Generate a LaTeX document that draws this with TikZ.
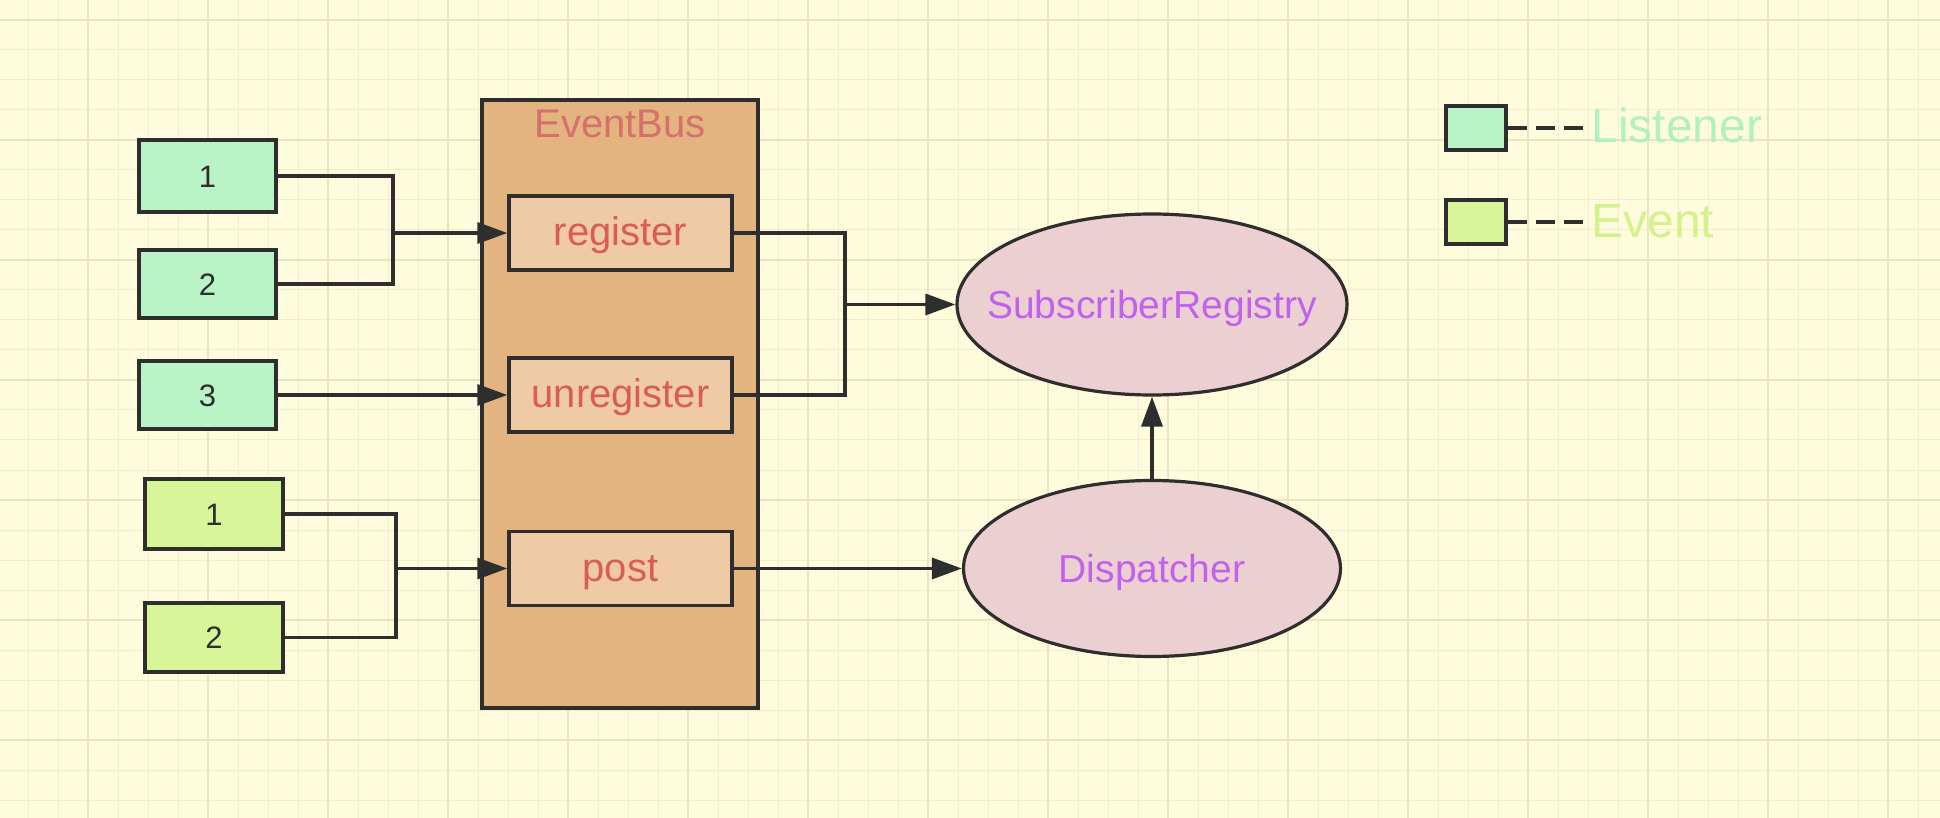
\documentclass[tikz,border=0pt]{standalone}
\usepackage{fontspec}
\setmainfont{Liberation Sans}
\usetikzlibrary{arrows.meta,shapes.geometric}
\definecolor{bg}{HTML}{FFFBDD}
\definecolor{gridminor}{HTML}{F4EDCD}
\definecolor{gridmajor}{HTML}{ECE3C0}
\definecolor{ink}{HTML}{2E2E2E}
\definecolor{lisfill}{HTML}{B8F4C6}
\definecolor{evfill}{HTML}{D8F59A}
\definecolor{listext}{HTML}{B2EFC2}
\definecolor{evtext}{HTML}{D2F28E}
\definecolor{busfill}{HTML}{E3B47F}
\definecolor{innerfill}{HTML}{EECBA4}
\definecolor{bustitle}{HTML}{D5706C}
\definecolor{innertext}{HTML}{D95C5A}
\definecolor{ellfill}{HTML}{EBCFD1}
\definecolor{elltext}{HTML}{C062EE}
\tikzset{
  smallbox/.style={draw=ink, line width=1.7pt, inner sep=0pt, minimum width=68.5pt,
    font=\fontsize{15.5}{18}\selectfont, text=ink, text height=11.1pt, text depth=0pt},
  lisbox/.style={smallbox, fill=lisfill},
  evbox/.style={smallbox, fill=evfill, minimum width=69pt},
  busbox/.style={draw=ink, line width=1.7pt, fill=busfill, inner sep=0pt,
    minimum width=138pt, minimum height=304pt},
  methbox/.style={draw=ink, line width=1.7pt, fill=innerfill, inner sep=0pt,
    minimum width=111.5pt, minimum height=37pt,
    font=\fontsize{20}{24}\selectfont, text=innertext, text height=13pt, text depth=0pt},
  ellnode/.style={ellipse, draw=ink, line width=1.6pt, fill=ellfill, inner sep=0pt},
  elllabel/.style={inner sep=0pt, font=\fontsize{19.5}{23}\selectfont, text=elltext,
    text height=14pt, text depth=0pt},
  conn/.style={draw=ink, line width=1.7pt},
  arr/.style={conn, -{Triangle[length=15pt,width=10.5pt]}},
  keybox/.style={draw=ink, line width=1.7pt, inner sep=0pt, minimum width=30pt, minimum height=22pt},
  keytext/.style={anchor=west, inner sep=4pt, font=\fontsize{24}{28}\selectfont,
    text height=17pt, text depth=0pt},
}
\begin{document}
\begin{tikzpicture}[x=0.5pt,y=-0.5pt]
\useasboundingbox (0,0) rectangle (1940,818);
\fill[bg] (0,0) rectangle (1940,818);
% grid
\foreach \x in {28,58,...,1940} \draw[gridminor, line width=0.5pt] (\x,0) -- (\x,818);
\foreach \y in {20,50,...,818} \draw[gridminor, line width=0.5pt] (0,\y) -- (1940,\y);
\foreach \x in {88,208,...,1940} \draw[gridmajor, line width=0.8pt] (\x,0) -- (\x,818);
\foreach \y in {20,140,...,818} \draw[gridmajor, line width=0.8pt] (0,\y) -- (1940,\y);

% EventBus container
\node[busbox] (bus) at (620,404) {};
\node[anchor=base, inner sep=0pt, font=\fontsize{20}{24}\selectfont, text=bustitle] (bustitle) at (620,138) {EventBus};
\node[methbox] (reg) at (620.5,233) {register};
\node[methbox] (unreg) at (620.5,395) {unregister};
\node[methbox] (post) at (620.5,568.5) {post};

% listeners
\node[lisbox, minimum height=36pt] (L1) at (207.5,176) {1};
\node[lisbox, minimum height=34pt] (L2) at (207.5,284) {2};
\node[lisbox, minimum height=34pt] (L3) at (207.5,395) {3};
% events
\node[evbox, minimum height=35pt] (E1) at (214,514) {1};
\node[evbox, minimum height=34.5pt] (E2) at (214,637.5) {2};

% ellipses
\node[ellnode, minimum width=195pt, minimum height=90.5pt] (SR) at (1152,304.5) {};
\node[elllabel] (SRt) at (SR.center) {SubscriberRegistry};
\node[ellnode, minimum width=188.5pt, minimum height=88pt] (disp) at (1152,568.5) {};
\node[elllabel] (dispt) at (disp.center) {Dispatcher};

% connectors
\coordinate (j1) at (393,233);
\draw[conn] (L1.east) -| (j1);
\draw[conn] (L2.east) -| (j1);
\draw[arr] (j1) -- (reg.west);
\draw[arr] (L3.east) -- (unreg.west);
\coordinate (j2) at (396,568.5);
\draw[conn] (E1.east) -| (j2);
\draw[conn] (E2.east) -| (j2);
\draw[arr] (j2) -- (post.west);
\coordinate (j3) at (845,304.5);
\draw[conn] (reg.east) -| (j3);
\draw[conn] (unreg.east) -| (j3);
\draw[arr] (j3) -- (SR.west);
\draw[arr] (post.east) -- (disp.west);
\draw[arr] (disp.north) -- (SR.south);

% legend
\node[keybox, fill=lisfill] (kL) at (1476,128) {};
\node[keybox, fill=evfill] (kE) at (1476,222) {};
\node[keytext, text=listext] (tL) at (1583,126) {Listener};
\node[keytext, text=evtext] (tE) at (1583,220.5) {Event};
\draw[conn, dash pattern=on 9.5pt off 4.5pt] (kL.east) -- (kL.east -| tL.west);
\draw[conn, dash pattern=on 9.5pt off 4.5pt] (kE.east) -- (kE.east -| tE.west);
\end{tikzpicture}
\end{document}
